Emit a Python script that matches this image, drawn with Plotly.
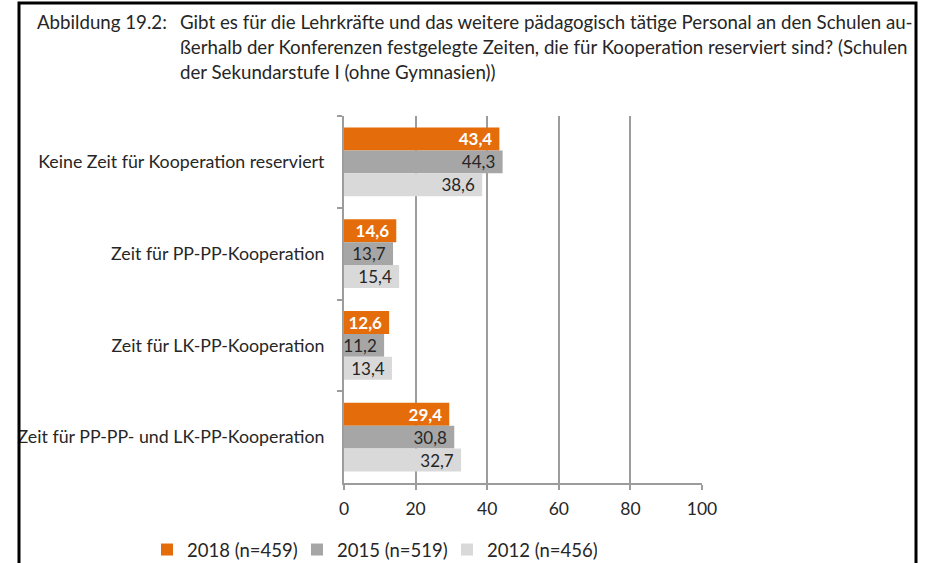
import plotly.graph_objects as go

# Daten
kategorien = [
    "Keine Zeit für Kooperation reserviert",
    "Zeit für PP-PP-Kooperation",
    "Zeit für LK-PP-Kooperation",
    "Zeit für PP-PP- und LK-PP-Kooperation",
]
serien = ["2018 (n=459)", "2015 (n=519)", "2012 (n=456)"]
werte_2018 = [43.4, 14.6, 12.6, 29.4]
werte_2015 = [44.3, 13.7, 11.2, 30.8]
werte_2012 = [38.6, 15.4, 13.4, 32.7]
x_ticks = [0, 20, 40, 60, 80, 100]

titel_links = "Abbildung 19.2:"
titel_zeilen = [
    "Gibt es für die Lehrkräfte und das weitere pädagogisch tätige Personal an den Schulen au-",
    "ßerhalb der Konferenzen festgelegte Zeiten, die für Kooperation reserviert sind? (Schulen",
    "der Sekundarstufe I (ohne Gymnasien))",
]

farben = ["#E46C0A", "#A6A6A6", "#D9D9D9"]
textfarben = ["white", "#262626", "#262626"]
FONT = "Lato, 'Open Sans', sans-serif"
GRID = "#9C9C9C"

W, H = 931, 563
# Plotbereich in Pixeln
L, R, T, B = 344, 702, 116, 483


def px_x(px):
    return (px - L) / (R - L)


def px_y(py):
    return (B - py) / (B - T)


def de(v):
    return f"{v:.1f}".replace(".", ",") + "\u00a0"


fig = go.Figure()
for name, werte, farbe, tf in zip(serien, [werte_2018, werte_2015, werte_2012], farben, textfarben):
    fig.add_trace(go.Bar(
        y=kategorien, x=werte, name=name, orientation="h",
        marker=dict(color=farbe, line=dict(width=0)),
        text=[de(v) for v in werte],
        textposition="inside", insidetextanchor="end",
        constraintext="none",
        insidetextfont=dict(family=FONT, size=17, color=tf,
                            weight="bold" if tf == "white" else "normal"),
        cliponaxis=False,
    ))

fig.update_layout(
    width=W, height=H,
    margin=dict(l=L, r=W - R, t=T, b=H - B, autoexpand=False),
    barmode="group", bargap=0.25, bargroupgap=0,
    paper_bgcolor="white", plot_bgcolor="white",
    font=dict(family=FONT, size=17.8, color="#262626"),
    showlegend=True,
    legend=dict(orientation="h", x=px_x(147), y=px_y(550), xanchor="left", yanchor="middle",
                entrywidth=105, entrywidthmode="pixels", traceorder="normal",
                font=dict(size=18.5), itemwidth=30),
)

fig.update_xaxes(
    range=[0, 100], tickvals=x_ticks, showgrid=True, gridcolor=GRID, gridwidth=2,
    showline=True, linecolor=GRID, linewidth=2, ticks="outside", ticklen=5,
    tickcolor=GRID, tickwidth=2, tickfont=dict(size=17.5), zeroline=False,
    ticklabelstandoff=4, automargin=False,
)
fig.update_yaxes(
    autorange="reversed", showline=True, linecolor=GRID, linewidth=2,
    ticks="outside", ticklen=5, tickcolor=GRID, tickwidth=2, tickson="boundaries",
    ticklabelstandoff=14, tickfont=dict(size=17.8), automargin=False,
)

# Titel
fig.add_annotation(text=titel_links, xref="paper", yref="paper", x=px_x(35), y=px_y(22),
                   xanchor="left", yanchor="middle", showarrow=False, font=dict(size=18.7))
for i, zeile in enumerate(titel_zeilen):
    fig.add_annotation(text=zeile, xref="paper", yref="paper", x=px_x(178), y=px_y(22 + 25 * i),
                       xanchor="left", yanchor="middle", showarrow=False, font=dict(size=18.7))

# Rahmen (unten offen)
fig.add_shape(type="rect", xref="paper", yref="paper", layer="above",
              x0=px_x(19), x1=px_x(916), y0=px_y(600), y1=px_y(3),
              line=dict(color="black", width=3), fillcolor="rgba(0,0,0,0)")
fig.add_shape(type="rect", xref="paper", yref="paper", layer="above",
              x0=px_x(0), x1=px_x(17), y0=px_y(600), y1=px_y(0),
              line=dict(width=0), fillcolor="white")

# Seitenrand des Browsers entfernen, damit die Figur bei (0,0) beginnt
fig.write_html("out.html", config={"displayModeBar": False},
               post_script="document.body.style.margin='0px';")
